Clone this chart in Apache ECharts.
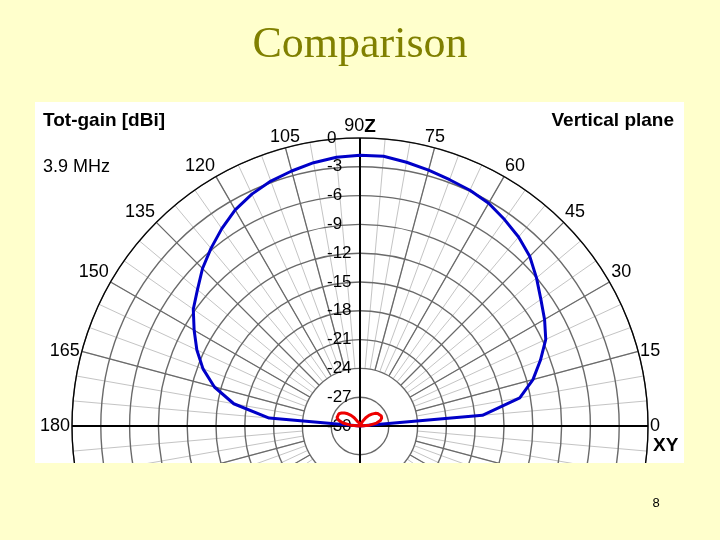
<!DOCTYPE html>
<html>
<head>
<meta charset="utf-8">
<script src="https://cdn.jsdelivr.net/npm/echarts@6/dist/echarts.min.js"></script>
<style>
  html, body { margin: 0; padding: 0; background: #ffffcc; }
  #chart { width: 720px; height: 540px; }
</style>
</head>
<body>
<div id="chart"></div>
<script>
// elevation angle, degrees (0 = right, 90 = zenith, 180 = left)
const angles = [0, 5, 10, 15, 20, 25, 30, 35, 40, 45, 50, 55, 60, 65, 70, 75, 80, 85, 90,
  95, 100, 105, 110, 115, 120, 125, 130, 135, 140, 145, 150, 155, 160, 165, 170, 175, 180];

// total gain, dBi (blue)
const totGain = [-30, -17.2, -13.1, -11.35, -10.0, -8.65, -7.8, -7.0, -6.0, -5.0, -4.3, -3.75, -3.2,
  -2.9, -2.7, -2.4, -2.1, -1.8, -1.8, -1.9, -2.15, -2.5, -2.85, -3.35, -4.0, -4.9, -5.85, -6.8,
  -7.9, -8.8, -10.05, -11.25, -12.6, -14.3, -16.65, -20.5, -30];

// second pattern near the centre (red)
const crossGain = [-30, -29.0, -28.25, -27.8, -27.6, -27.55, -27.6, -27.75, -27.95, -28.25, -28.55,
  -28.95, -29.4, -29.8, -30, -30, -30, -30, -30, -30, -30, -30, -30, -29.8, -29.4, -28.95, -28.55,
  -28.2, -27.9, -27.65, -27.45, -27.4, -27.45, -27.7, -28.2, -29.0, -30];

const angleTicks = [0, 15, 30, 45, 60, 75, 90, 105, 120, 135, 150, 165, 180];
const gainTicks = [0, -3, -6, -9, -12, -15, -18, -21, -24, -27, -30];

const chart = echarts.init(document.getElementById('chart'));

const center = [360, 426];
const R = 288;
const hub = 58;
const gMin = Math.min(...gainTicks);
const gMax = Math.max(...gainTicks);
const gStep = gainTicks[0] - gainTicks[1];
const sans = 'Liberation Sans';
const off = {show: false};

chart.setOption({
  backgroundColor: '#ffffcc',
  animation: false,
  title: {
    text: 'Comparison',
    left: 'center',
    top: 18,
    textStyle: {fontFamily: 'Liberation Serif', fontSize: 44, fontWeight: 'normal', color: '#808000'}
  },
  polar: [
    {center: center, radius: [hub, R]},
    {center: center, radius: [hub, R]},
    {center: center, radius: [0, R]},
    {center: center, radius: [0, R]}
  ],
  angleAxis: [
    {
      polarIndex: 0, type: 'value', min: 0, max: 360, interval: 5, startAngle: 0, clockwise: false, z: 1,
      axisLine: off, axisTick: off, axisLabel: off,
      splitLine: {show: true, lineStyle: {color: '#c4c4c4', width: 1}}
    },
    {
      polarIndex: 1, type: 'value', min: 0, max: 360, interval: 15, startAngle: 0, clockwise: false, z: 2,
      axisLine: off, axisTick: off,
      axisLabel: {
        show: true, margin: 2, fontFamily: sans, fontSize: 18, color: '#000',
        formatter: v => angleTicks.includes(v) ? (v === 90 ? '90{z|Z}' : String(v)) : '',
        rich: {z: {fontFamily: sans, fontSize: 19, fontWeight: 'bold', color: '#000'}}
      },
      splitLine: {show: true, lineStyle: {color: '#6a6a6a', width: 1.3}}
    },
    {
      polarIndex: 2, type: 'value', min: 0, max: 360, interval: 90, startAngle: 0, clockwise: false, z: 4,
      axisLine: {show: true, lineStyle: {color: '#000', width: 1.2}}, axisTick: off, axisLabel: off,
      splitLine: {show: true, lineStyle: {color: '#000', width: 2}}
    },
    {polarIndex: 3, type: 'value', min: 0, max: 360, startAngle: 90, clockwise: false, show: false}
  ],
  radiusAxis: [
    {polarIndex: 0, show: false},
    {polarIndex: 1, show: false},
    {
      polarIndex: 2, type: 'value', min: gMin, max: gMax, interval: gStep, z: 3,
      axisLine: off, axisTick: off, axisLabel: off,
      splitLine: {show: true, lineStyle: {color: '#6a6a6a', width: 1.4}}
    },
    {
      polarIndex: 3, type: 'value', min: gMin, max: gMax, interval: gStep, z: 5,
      axisLine: off, axisTick: off, splitLine: off,
      axisLabel: {show: true, margin: 33, align: 'left', padding: [6, 0, 0, 0], fontFamily: sans, fontSize: 17, color: '#000'}
    }
  ],
  series: [
    {
      name: 'Tot-gain', type: 'line', coordinateSystem: 'polar', polarIndex: 2, z: 6,
      symbol: 'none', smooth: false,
      lineStyle: {color: '#0000c8', width: 3},
      data: angles.map((a, i) => [totGain[i], a])
    },
    {
      name: 'Second', type: 'line', coordinateSystem: 'polar', polarIndex: 2, z: 7,
      symbol: 'none', smooth: false,
      lineStyle: {color: '#ee0000', width: 3},
      data: angles.map((a, i) => [crossGain[i], a])
    }
  ],
  graphic: [
    {type: 'rect', z: -10, shape: {x: 35, y: 102, width: 649, height: 361}, style: {fill: '#ffffff'}},
    {type: 'rect', z: 100, shape: {x: 0, y: 463, width: 720, height: 77}, style: {fill: '#ffffcc'}},
    {type: 'text', z: 101, x: 43, y: 111, style: {text: 'Tot-gain [dBi]', font: 'bold 19px "Liberation Sans"', fill: '#000'}},
    {type: 'text', z: 101, x: 43, y: 158, style: {text: '3.9 MHz', font: '18px "Liberation Sans"', fill: '#000'}},
    {type: 'text', z: 101, x: 674, y: 111, style: {text: 'Vertical plane', font: 'bold 19px "Liberation Sans"', fill: '#000', align: 'right'}},
    {type: 'text', z: 101, x: 653, y: 436, style: {text: 'XY', font: 'bold 19px "Liberation Sans"', fill: '#000'}},
    {type: 'text', z: 101, x: 656, y: 503, style: {text: '8', font: '13px "Liberation Sans"', fill: '#000', align: 'center', verticalAlign: 'middle'}}
  ]
});
</script>
</body>
</html>
